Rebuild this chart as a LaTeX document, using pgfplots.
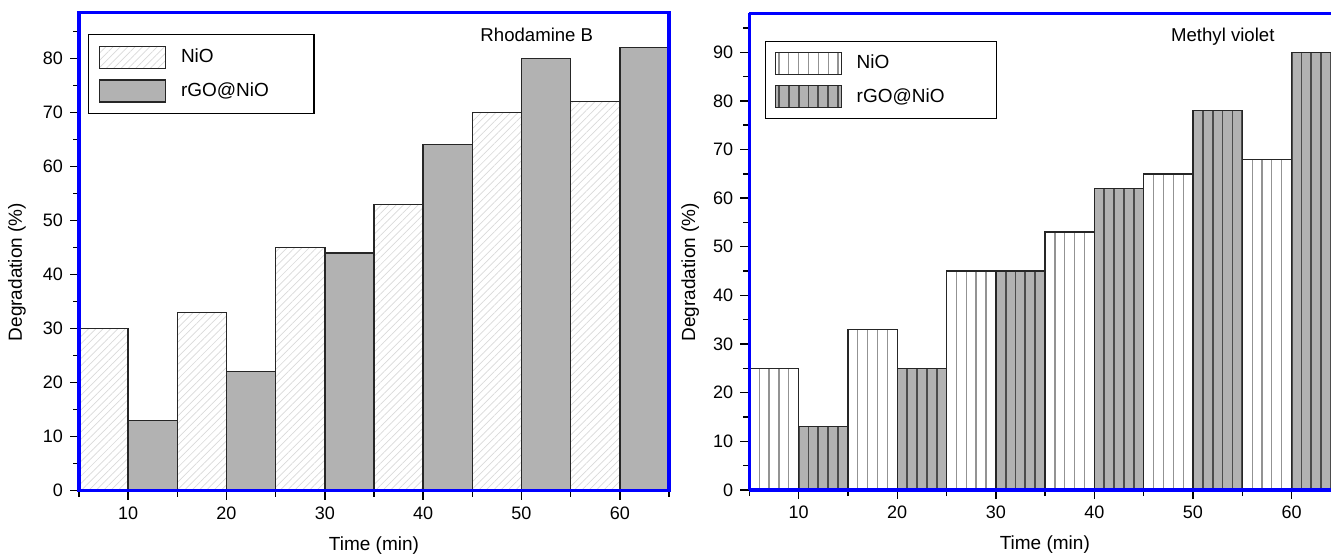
\documentclass[border=0pt]{standalone}
\usepackage{pgfplots}
\pgfplotsset{compat=1.18}
\usepackage{pgfplotstable}
\usepackage{fontspec}
\setmainfont{Liberation Sans}
\usetikzlibrary{patterns.meta}
\definecolor{barfill}{gray}{0.70}
\definecolor{edge}{gray}{0.15}

\pgfplotstableread{
x y
7.5 30
17.5 33
27.5 45
37.5 53
47.5 70
57.5 72
}\rhbNiO
\pgfplotstableread{
x y
12.5 13
22.5 22
32.5 44
42.5 64
52.5 80
62.5 82
}\rhbGO
\pgfplotstableread{
x y
7.5 25
17.5 33
27.5 45
37.5 53
47.5 65
57.5 68
}\mvNiO
\pgfplotstableread{
x y
12.5 13
22.5 25
32.5 45
42.5 62
52.5 78
62.5 90
}\mvGO

\begin{document}
\begin{tikzpicture}
\path[use as bounding box] (0,0) rectangle (665.5pt,278.5pt);
\pgfplotsset{
  common/.style={
    scale only axis, anchor=south west, axis on top,
    /pgf/number format/assume math mode=true,
    tick label style={font=\fontsize{9}{10}\selectfont, black},
    label style={font=\fontsize{9.5}{11}\selectfont},
    title style={font=\fontsize{9.3}{11}\selectfont},
    axis line style={blue, line width=1.6pt, -},
    tick style={black, line width=0.7pt},
    tick align=outside, tick pos=left,
    major tick length=4.5pt, minor tick length=3pt,
    xtick={10,20,...,60}, minor xtick={5,15,...,65},
    xmin=5, ymin=0,
    xlabel={Time (min)}, ylabel={Degradation (\%)},
    legend cell align=left,
    legend image code/.code={\draw[##1] (0pt,-5.5pt) rectangle (33pt,5.5pt);},
  },
  bars/.style={ybar, bar width=5, bar shift=0pt, draw=edge, line width=0.7pt},
}
% ---------------- left: Rhodamine B
\begin{axis}[common,
  at={(39.5pt,33.15pt)}, width=295pt, height=239.2pt,
  xmax=65, ymax=88.5,
  ytick={0,10,...,80}, minor ytick={5,15,...,85},
  xlabel style={at={(axis description cs:0.5,-0.115)}, anchor=center},
  ylabel style={at={(axis description cs:-0.105,0.457)}, anchor=center},
  title={Rhodamine B},
  title style={at={(axis description cs:0.776,1)}, anchor=center, yshift=-17.35pt},
  legend style={at={(axis description cs:0,1)}, anchor=north west,
    xshift=4.5pt, yshift=-10.9pt, draw=black, line width=0.6pt,
    inner xsep=5pt, inner ysep=5.5pt, row sep=5pt,
    font=\fontsize{9.5}{11}\selectfont,
    nodes={inner sep=0pt},
    /tikz/every odd column/.append style={column sep=7.5pt}},
]
\addplot[bars, fill=white, pattern={Lines[angle=45, distance=2.6pt, line width=0.35pt]}, pattern color=gray!30] table[x=x,y=y] {\rhbNiO};
\addlegendentry{\makebox[61.5pt][l]{NiO}}
\addplot[bars, fill=barfill] table[x=x,y=y] {\rhbGO};
\addlegendentry{\makebox[61.5pt][l]{rGO@NiO}}
\end{axis}
% ---------------- right: Methyl violet
\begin{axis}[common,
  at={(374.65pt,33.5pt)}, width=290.85pt, height=238.35pt,
  xmax=64, ymax=98,
  axis y line*=left,
  ytick={0,10,...,90}, minor ytick={5,15,...,95},
  xlabel style={at={(axis description cs:0.508,-0.1154)}, anchor=center},
  ylabel style={at={(axis description cs:-0.1014,0.457)}, anchor=center},
  title={Methyl violet},
  title style={at={(axis description cs:0.814,1)}, anchor=center, yshift=-17.85pt},
  legend style={at={(axis description cs:0,1)}, anchor=north west,
    xshift=7.85pt, yshift=-13.85pt, draw=black, line width=0.6pt,
    inner xsep=4.5pt, inner ysep=5pt, row sep=5pt,
    font=\fontsize{9.5}{11}\selectfont,
    nodes={inner sep=0pt},
    /tikz/every odd column/.append style={column sep=7.35pt}},
]
\addplot[bars, fill=white, postaction={pattern={Lines[angle=90, distance=4.9297pt, line width=0.6pt]}, pattern color=gray!85}] table[x=x,y=y] {\mvNiO};
\addlegendentry{\makebox[65.2pt][l]{NiO}}
\addplot[bars, fill=barfill, postaction={pattern={Lines[angle=90, distance=4.9297pt, line width=0.9pt]}, pattern color=black!70}] table[x=x,y=y] {\mvGO};
\addlegendentry{\makebox[65.2pt][l]{rGO@NiO}}
\end{axis}
\end{tikzpicture}
\end{document}
